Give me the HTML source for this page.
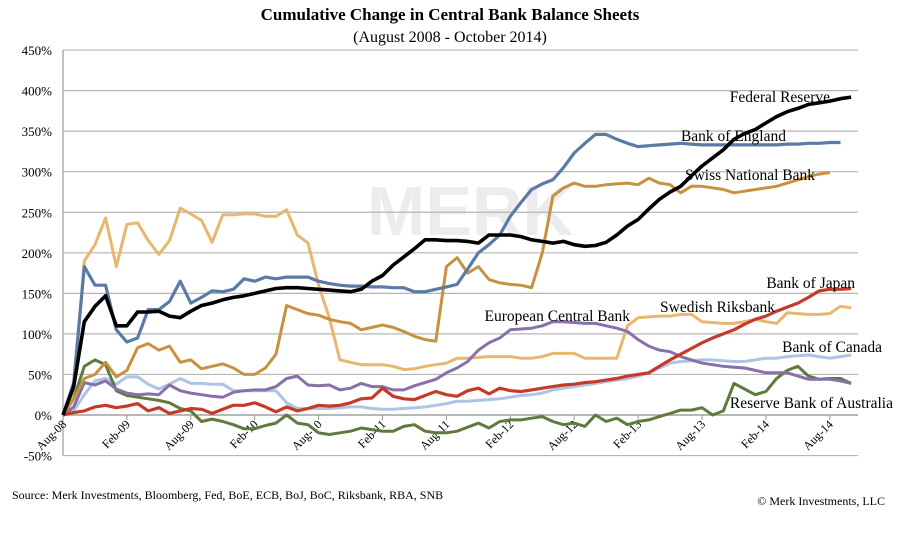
<!DOCTYPE html>
<html><head><meta charset="utf-8"><style>
body{margin:0;background:#fff;}
svg{display:block;font-family:"Liberation Serif",serif;}
</style></head><body>
<svg id="c" width="899" height="533">
<text x="450" y="20" text-anchor="middle" font-size="17" font-weight="bold">Cumulative Change in Central Bank Balance Sheets</text>
<text x="450" y="42" text-anchor="middle" font-size="16">(August 2008 - October 2014)</text>
<text x="470" y="235" text-anchor="middle" font-size="70" font-family="Liberation Sans, sans-serif" font-weight="bold" fill="#ececec">MERK</text>
<g id="grid"></g><g id="lines"></g>
<g font-size="15.5">
<text x="830" y="102" text-anchor="end">Federal Reserve</text>
<text x="786" y="141" text-anchor="end">Bank of England</text>
<text x="815" y="180" text-anchor="end">Swiss National Bank</text>
<text x="855" y="288" text-anchor="end">Bank of Japan</text>
<text x="775" y="312" text-anchor="end">Swedish Riksbank</text>
<text x="630" y="321" text-anchor="end">European Central Bank</text>
<text x="882" y="352" text-anchor="end">Bank of Canada</text>
<text x="893" y="408" text-anchor="end">Reserve Bank of Australia</text>
</g>
<text x="12" y="499" font-size="12">Source: Merk Investments, Bloomberg, Fed, BoE, ECB, BoJ, BoC, Riksbank, RBA, SNB</text>
<text x="885" y="505" text-anchor="end" font-size="12">© Merk Investments, LLC</text>
</svg>
<script>
const yTicks=[450,400,350,300,250,200,150,100,50,0,-50];
const xTickLabels=["Aug-08","Feb-09","Aug-09","Feb-10","Aug-10","Feb-11","Aug-11","Feb-12","Aug-12","Feb-13","Aug-13","Feb-14","Aug-14"];
const seriesNames=["Bank of Canada","Swedish Riksbank","Reserve Bank of Australia","European Central Bank","Swiss National Bank","Bank of Japan","Bank of England","Federal Reserve"];
const bankOfCanada=[0,5,25,42,45,38,47,47,38,32,38,45,39,39,38,38,30,30,30,30,30,15,8,8,8,8,9,10,10,8,7,7,8,9,10,12,14,17,17,18,19,20,22,24,25,27,31,33,35,37,39,41,43,45,48,52,58,64,66,67,68,68,67,66,66,68,70,70,72,73,74,72,70,72,74];
const swedishRiksbank=[0,30,190,210,243,183,235,237,215,198,215,255,248,240,213,247,247,248,248,245,245,253,222,212,160,120,68,65,62,62,62,60,56,57,60,62,64,70,70,71,72,72,72,70,70,72,76,76,76,70,70,70,70,110,120,121,122,122,124,124,115,114,113,113,115,118,115,113,126,125,124,124,125,134,132];
const reserveBankAustralia=[0,20,60,68,62,30,24,22,20,18,15,8,5,-8,-5,-8,-12,-17,-17,-13,-10,0,-10,-12,-22,-24,-22,-20,-16,-18,-20,-20,-14,-12,-20,-22,-22,-20,-15,-10,-16,-8,-6,-6,-4,-2,-8,-12,-10,-14,0,-8,-4,-12,-8,-6,-2,2,6,6,9,0,5,39,32,25,29,45,55,60,48,44,45,45,39];
const europeanCentralBank=[0,10,40,37,42,32,27,25,26,25,37,30,27,25,23,22,28,30,31,31,35,45,48,37,36,37,31,33,39,35,35,31,31,36,40,44,52,58,66,80,89,95,105,106,107,110,115,115,114,113,113,110,107,103,93,85,80,78,72,68,64,62,60,59,58,55,52,52,52,48,44,44,44,42,39];
const swissNationalBank=[0,20,45,50,65,47,55,83,88,80,85,65,68,57,60,63,58,50,50,58,75,135,130,125,123,118,115,113,105,108,111,108,103,97,93,91,183,194,175,183,167,163,161,160,157,200,270,280,286,282,282,284,285,286,284,292,286,284,274,282,282,280,278,274,276,278,280,282,286,290,294,297,299];
const bankOfJapan=[0,3,5,10,12,9,11,14,5,9,2,5,8,7,2,7,12,12,15,10,4,10,5,8,12,11,12,15,20,21,33,23,20,19,24,29,25,23,30,33,26,33,30,29,31,33,35,37,38,40,41,43,45,48,50,52,60,68,75,82,89,95,100,105,112,118,122,128,133,138,145,153,155,155,156];
const bankOfEngland=[0,40,183,160,160,105,90,95,130,130,140,165,138,145,153,152,155,168,165,170,168,170,170,170,165,162,160,159,159,158,158,157,157,152,152,155,158,161,180,200,210,222,245,262,278,285,290,305,323,335,346,346,340,335,331,332,333,334,335,334,333,333,333,333,333,333,333,333,334,334,335,335,336,336];
const federalReserve=[0,35,115,134,147,110,110,127,127,128,122,120,128,135,138,142,145,147,150,153,156,157,157,156,155,154,153,152,155,165,172,185,195,205,216,216,215,215,214,212,222,222,222,220,216,214,212,214,210,208,209,213,222,233,241,254,266,275,282,295,307,317,327,340,347,352,360,368,374,378,383,385,387,390,392];

const NS="http://www.w3.org/2000/svg";
const X0=63,XM=10.65,Y0=415,YK=0.811;
function xs(m){return X0+m*XM;}
function ys(v){return Y0-v*YK;}
function mk(t,a,p){const e=document.createElementNS(NS,t);for(const k in a)e.setAttribute(k,a[k]);p.appendChild(e);return e;}
const grid=document.getElementById('grid');
yTicks.forEach(v=>{
  const l=mk('line',{x1:63,x2:858,y1:ys(v),y2:ys(v),stroke:'#b5b5b5','stroke-width':1.2},grid);
  
  
  const t=mk('text',{x:52,y:ys(v)+5,'text-anchor':'end','font-size':13},grid);
  t.textContent=v+'%';
  
  
});
const ax=mk('line',{x1:63,x2:63,y1:ys(450),y2:ys(-50),stroke:'#999','stroke-width':1.2},grid);


const xa=mk('line',{x1:63,x2:858,y1:ys(0),y2:ys(0),stroke:'#999','stroke-width':1.2},grid);


xTickLabels.forEach((s,i)=>{
  const x=xs(i*6);
  const tk=mk('line',{x1:x,x2:x,y1:ys(0),y2:ys(0)+5,stroke:'#999'},grid);
  
  
  const t=mk('text',{x:x+4,y:ys(0)+10,'text-anchor':'end','font-size':12,transform:`rotate(-45 ${x+4} ${ys(0)+10})`},grid);
  t.textContent=s;
  
  
});
const data=[bankOfCanada,swedishRiksbank,reserveBankAustralia,europeanCentralBank,swissNationalBank,bankOfJapan,bankOfEngland,federalReserve];
const colors=['#adc4e4','#e9b66e','#5f7a3c','#8870a8','#c8913f','#c63a2a','#5b7aa5','#000'];
const widths=[3,3,3,3,3,3.2,3.2,3.6];
const lines=document.getElementById('lines');
data.forEach((arr,i)=>{
  const d=arr.map((v,m)=>(m?'L':'M')+xs(m).toFixed(1)+','+ys(v).toFixed(1)).join('');
  const p=mk('path',{d:d,fill:'none',stroke:colors[i],'stroke-width':widths[i],'stroke-linejoin':'round'},lines);
  
  
});
</script>
</body></html>
